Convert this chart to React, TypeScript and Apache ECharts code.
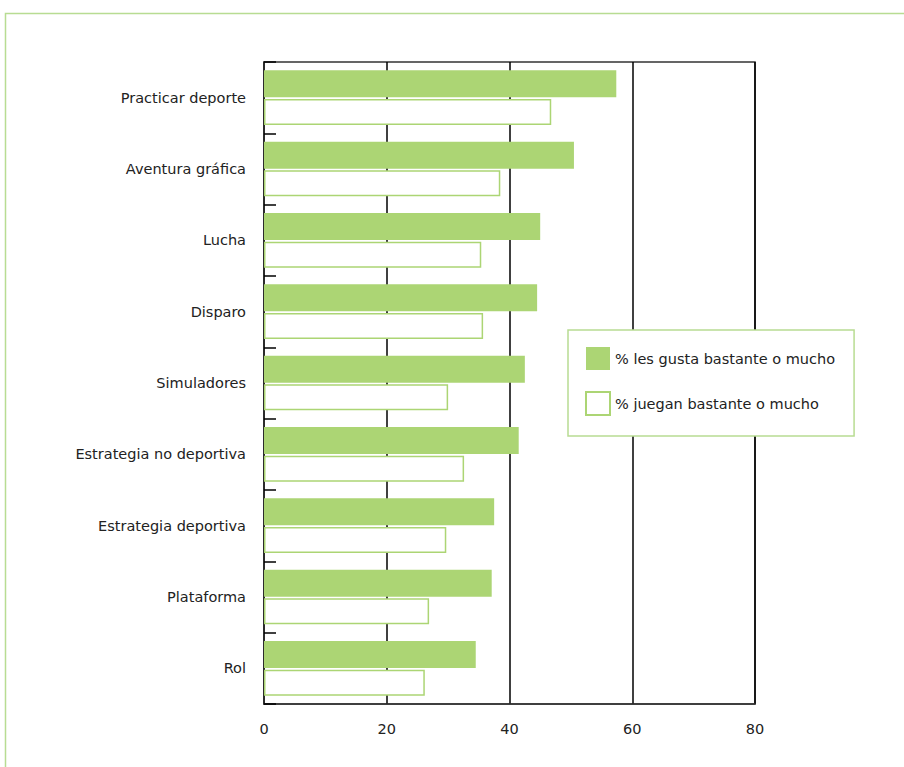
import React, { useEffect, useRef } from "react";
import * as echarts from "echarts";

const categories = [
  "Practicar deporte",
  "Aventura gráfica",
  "Lucha",
  "Disparo",
  "Simuladores",
  "Estrategia no deportiva",
  "Estrategia deportiva",
  "Plataforma",
  "Rol",
];
const gusta = [57.4, 50.5, 45.0, 44.5, 42.5, 41.5, 37.5, 37.1, 34.5];
const juegan = [46.8, 38.5, 35.4, 35.7, 30.0, 32.6, 29.7, 26.9, 26.2];
const xTicks = [0, 20, 40, 60, 80];

const GREEN = "#acd574";
const FONT = "DejaVu Sans";

export default function App() {
  const ref = useRef<HTMLDivElement>(null);
  useEffect(() => {
    document.body.style.margin = "0";
    const chart = echarts.init(ref.current!, null, { renderer: "svg" });
    chart.setOption({
      animation: false,
      backgroundColor: "#ffffff",
      graphic: [
        {
          type: "rect",
          shape: { x: 5.5, y: 13.5, width: 1000, height: 1000 },
          style: { fill: "none", stroke: "#b8dc92", lineWidth: 1.5 },
          silent: true,
        },
      ],
      legend: {
        orient: "vertical",
        left: 568,
        top: 330,
        padding: [17, 19, 20, 17],
        itemWidth: 24,
        itemHeight: 23,
        itemGap: 21,
        borderColor: "#b8dc92",
        borderWidth: 1.5,
        backgroundColor: "#ffffff",
        textStyle: { fontFamily: FONT, fontSize: 14.5, color: "#222" },
        data: [
          { name: "% les gusta bastante o mucho", icon: "rect" },
          { name: "% juegan bastante o mucho", icon: "rect" },
        ],
      },
      grid: {
        left: 264,
        right: 149,
        top: 62,
        bottom: 63,
        show: true,
        borderColor: "#333",
        borderWidth: 1.5,
        containLabel: false,
      },
      xAxis: {
        type: "value",
        min: xTicks[0],
        max: xTicks[xTicks.length - 1],
        interval: 20,
        axisLine: { show: true, lineStyle: { color: "#333", width: 1.5 } },
        axisTick: { show: false },
        splitLine: { show: true, lineStyle: { color: "#000", width: 1.5 } },
        axisLabel: {
          fontFamily: FONT,
          fontSize: 14.5,
          color: "#222",
          margin: 17,
        },
      },
      yAxis: {
        type: "category",
        inverse: true,
        data: categories,
        axisLine: { show: true, lineStyle: { color: "#333", width: 1.5 } },
        axisTick: {
          show: true,
          inside: true,
          length: 12,
          lineStyle: { color: "#000", width: 1.5 },
        },
        axisLabel: {
          fontFamily: FONT,
          fontSize: 14.5,
          color: "#222",
          margin: 18,
        },
      },
      series: [
        {
          name: "% les gusta bastante o mucho",
          type: "bar",
          data: gusta,
          barWidth: 27,
          barGap: "6%",
          itemStyle: { color: GREEN },
        },
        {
          name: "% juegan bastante o mucho",
          type: "bar",
          data: juegan,
          barWidth: 26,
          itemStyle: { color: "#ffffff", borderColor: GREEN, borderWidth: 1.5 },
        },
      ],
    });
    return () => chart.dispose();
  }, []);
  return <div ref={ref} style={{ width: 904, height: 767 }} />;
}
